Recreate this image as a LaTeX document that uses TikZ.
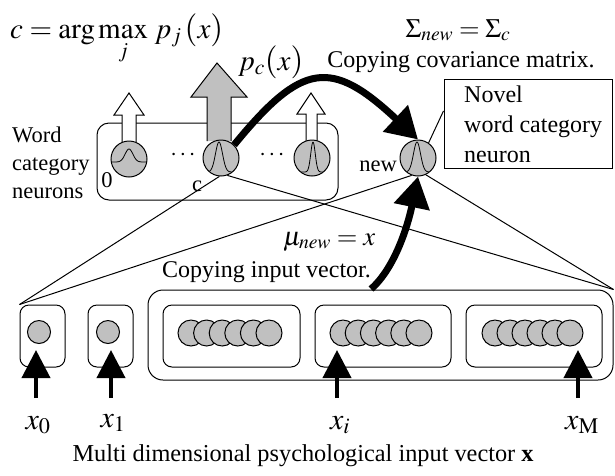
\documentclass[tikz,border=0pt]{standalone}
\usepackage{mathptmx}
\usepackage[no-math]{fontspec}
\setmainfont{Liberation Serif}
\newfontfamily\tnr{Liberation Serif}
\usetikzlibrary{arrows.meta,calc}
\definecolor{cellgray}{RGB}{192,192,192}
\newcommand{\bparen}[1]{\mbox{\fontsize{33}{36}\selectfont$#1$}}
\begin{document}
\begin{tikzpicture}[x=1pt,y=-1pt,
  txt/.style={font=\tnr\fontsize{24}{28}\selectfont, inner sep=0pt},
  ttxt/.style={font=\tnr\fontsize{24.3}{28}\selectfont, inner sep=0pt},
  wtxt/.style={font=\tnr\fontsize{22.5}{27}\selectfont, inner sep=0pt},
  mth/.style={font=\fontsize{29}{33}\selectfont, inner sep=0pt},
  mths/.style={font=\fontsize{26.5}{30}\selectfont, inner sep=0pt},
  xlab/.style={font=\fontsize{30}{34}\selectfont, inner sep=0pt},
  thinline/.style={line width=1pt},
  neuron/.style={circle, draw, line width=1pt, fill=cellgray, minimum size=36pt, inner sep=0pt},
  cell/.style={circle, draw, line width=1pt, fill=cellgray, minimum size=26pt, inner sep=0pt},
  cellone/.style={cell, minimum size=23pt},
  rbox/.style={draw, line width=1pt, rounded corners=9pt, inner sep=0pt},
  inarrow/.style={line width=4pt, -{Triangle[length=28pt,width=28pt]}},
  bigcurve/.style={line width=7pt, -{Triangle[length=31pt,width=35pt]}},
  hollow/.style={draw, line width=1pt, fill=white},
  bump/.style={line width=0.8pt},
]
\useasboundingbox (0,0) rectangle (615,475);

% ---------- upper layer ----------
\coordinate (c0) at (129,159);
\coordinate (cc) at (221,158);
\coordinate (cr) at (312,158);
\coordinate (cn) at (418,158);

\node[rbox, minimum width=241pt, minimum height=77pt, rounded corners=12pt] (wbox) at (217.5,161.5) {};

% output arrows
\draw[hollow] ($(c0)+(-7,-17)$) -- ++(0,-27) -- ++(-8,0) -- ($(c0)+(0,-66)$) -- ($(c0)+(15,-44)$) -- ++(-8,0) -- ++(0,27);
\draw[hollow] ($(cr)+(-6,-17)$) -- ++(0,-27) -- ++(-9,0) -- ($(cr)+(-1,-65)$) -- ($(cr)+(13,-44)$) -- ++(-8,0) -- ++(0,27);
\draw[hollow, fill=cellgray] ($(cc)+(-14,-17)$) -- ++(0,-44) -- ++(-16,0) -- ($(cc)+(-4,-95)$) -- ($(cc)+(26,-61)$) -- ++(-16,0) -- ++(0,44);

\node[neuron] (n0) at (c0) {};
\node[neuron] (nc) at (cc) {};
\node[neuron] (nr) at (cr) {};
\node[neuron] (nn) at (cn) {};

\begin{scope}
  \clip (c0) circle (17.5pt);
  \draw[bump] plot[domain=-18:18, samples=60] ({129+\x}, {162 - 13*exp(-(\x/5.5)^2)});
\end{scope}
\begin{scope}
  \clip (cc) circle (17.5pt);
  \draw[bump] plot[domain=-18:18, samples=80] ({219+\x}, {172 - 30*exp(-(\x/5)^2)});
\end{scope}
\begin{scope}
  \clip (cr) circle (17.5pt);
  \draw[bump] plot[domain=-18:18, samples=80] ({313+\x}, {172 - 30*exp(-(\x/3.2)^2)});
\end{scope}
\begin{scope}
  \clip (cn) circle (17.5pt);
  \draw[bump] plot[domain=-18:18, samples=80] ({417+\x}, {172 - 30*exp(-(\x/5)^2)});
\end{scope}

\node[txt] (d1) at (183,155) {$\cdots$};
\node[txt] (d2) at (272,155) {$\cdots$};
\node[wtxt] (l0) at (107,180) {0};
\node[wtxt] (lc) at (197,186) {c};
\node[wtxt] (lnew) at (378,166) {new};

\node[wtxt, anchor=base west] (w1) at (12,142) {Word};
\node[wtxt, anchor=base west] (w2) at (12,170) {category};
\node[wtxt, anchor=base west] (w3) at (12,198) {neurons};

% novel box
\node[rbox, rounded corners=0pt, minimum width=168pt, minimum height=89pt] (novel) at (528,123.5) {};
\node[txt, anchor=base west] (nv1) at (464,102) {Novel};
\node[txt, anchor=base west] (nv2) at (464,132) {word category};
\node[txt, anchor=base west] (nv3) at (464,162) {neuron};
\coordinate (nvlink) at ($(novel.south west)!0.64!(novel.north west)$);
\draw[thinline] (nn.55) -- (nvlink);

% formulas
\node[mth, anchor=base west] (argmax) at (10,38) {$c=\arg\max\limits_{j}\, p_{j}\,\bparen{(}x\bparen{)}$};
\node[mth, anchor=base west] (pc) at (238,70) {$p_{c}\bparen{(}x\bparen{)}$};
\node[mths, anchor=base] (sig) at (458,37) {$\Sigma_{new}=\Sigma_{c}$};
\node[txt, anchor=base] (cov) at (461,67) {Copying covariance matrix.};
\node[mths, anchor=base west] (mu) at (283,245) {$\mu_{new}=x$};
\node[txt, anchor=base west] (civ) at (162,277) {Copying input vector.};

% ---------- input layer ----------
\node[rbox, minimum width=45pt, minimum height=62pt] (b0) at (42.5,336) {};
\node[rbox, minimum width=45pt, minimum height=62pt] (b1) at (110.5,336) {};
\node[rbox, minimum width=465pt, minimum height=90pt, rounded corners=15pt] (big) at (380.5,335) {};
\node[rbox, minimum width=137pt, minimum height=62pt] (ba) at (231.5,336) {};
\node[rbox, minimum width=136pt, minimum height=62pt] (bb) at (383,336) {};
\node[rbox, minimum width=136pt, minimum height=62pt] (bcc) at (534,336) {};

\node[cellone] (i0) at (39,332) {};
\node[cellone] (i1) at (108,332) {};
\foreach \k in {0,...,5} {
  \node[cell] (ca\k) at ({191+15.6*\k},333) {};
}
\foreach \k in {0,...,5} {
  \node[cell] (cb\k) at ({343+15.2*\k},333) {};
}
\foreach \k in {0,...,5} {
  \node[cell] (cx\k) at ({495+15*\k},333) {};
}

% connections between layers
\coordinate (lt) at (b0.north west);
\coordinate (rt) at (big.north east);
\draw[thinline] (nc.265) -- (lt);
\draw[thinline] (nc.290) -- (rt);
\draw[thinline] (nn.250) -- (lt);
\draw[thinline] (nn.295) -- (rt);

% copying arrows
\draw[bigcurve] (nc.45) .. controls (302,62) and (331,58) .. (nn.north);
\coordinate (mutail) at (371,289);
\draw[bigcurve] (mutail) .. controls (395,268) and (408,225) .. (nn.south);

% input arrows and labels
\foreach \n/\xx in {0/36, 1/111, i/337, M/578} {
  \coordinate (t\n) at (\xx,398);
  \coordinate (h\n) at (\xx,350);
  \draw[inarrow] (t\n) -- (h\n);
}
\node[xlab, anchor=base] (x0) at (38,429) {$x_{0}$};
\node[xlab, anchor=base] (x1) at (113,427) {$x_{1}$};
\node[xlab, anchor=base] (xi) at (340,429) {$x_{i}$};
\node[xlab, anchor=base] (xM) at (582,429) {$x_{\mathrm{M}}$};

\node[ttxt, anchor=base] (title) at (303,461) {Multi dimensional psychological input vector \textbf{x}};
\end{tikzpicture}
\end{document}
